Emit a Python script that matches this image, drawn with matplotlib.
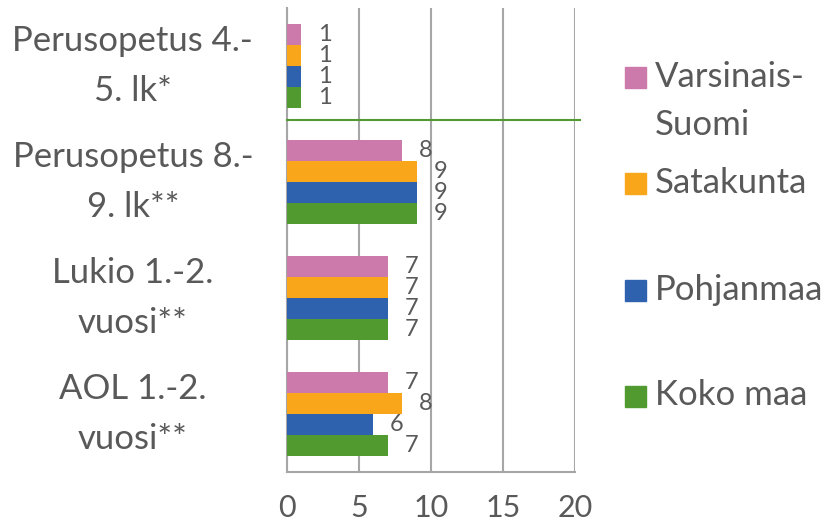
import numpy as np
import matplotlib.pyplot as plt
from matplotlib.patches import Rectangle

plt.rcParams['font.family'] = ['Lato', 'DejaVu Sans']

categories = ["Perusopetus 4.-\n5. lk*", "Perusopetus 8.-\n9. lk**",
              "Lukio 1.-2.\nvuosi**", "AOL 1.-2.\nvuosi**"]
series = ["Varsinais-\nSuomi", "Satakunta", "Pohjanmaa", "Koko maa"]
varsinais_suomi = [1, 8, 7, 7]
satakunta = [1, 9, 7, 8]
pohjanmaa = [1, 9, 7, 6]
koko_maa = [1, 9, 7, 7]
x_ticks = [0, 5, 10, 15, 20]

colors = ["#CC79AB", "#F9A61A", "#2E62AE", "#509A2F"]
TEXT = "#595959"
GRID = "#A6A6A6"

values = [varsinais_suomi, satakunta, pohjanmaa, koko_maa]

fig = plt.figure(figsize=(8.27, 5.26), dpi=100)
ax = fig.add_axes([287 / 827, 1 - 472 / 526, 288 / 827, 464 / 526])

bar_h = 21 / 116
ys = np.arange(len(categories))
for i, (vals, col) in enumerate(zip(values, colors)):
    offset = (i - 1.5) * bar_h
    ax.barh(ys + offset, vals, height=bar_h, color=col, zorder=3)
    for y, v in zip(ys + offset, vals):
        ax.annotate(str(v), (v, y), xytext=(12, 0), textcoords="offset points",
                    va="center", ha="left", fontsize=17, color=TEXT)

ax.set_xlim(0, 20)
ax.set_ylim(3.5, -0.5)
ax.set_xticks(x_ticks)
ax.set_xticklabels([str(t) for t in x_ticks])
ax.set_yticks(ys)
ax.set_yticklabels(categories, ha="center", va="center", linespacing=1.7)
ax.tick_params(axis="y", length=0, pad=111, labelsize=25, labelcolor=TEXT)
ax.tick_params(axis="x", length=0, pad=16, labelsize=22, labelcolor=TEXT)
ax.grid(axis="x", color=GRID, linewidth=1.5, zorder=0)
for side in ["top", "right"]:
    ax.spines[side].set_visible(False)
for side in ["left", "bottom"]:
    ax.spines[side].set_color(GRID)
    ax.spines[side].set_linewidth(1.5)

# separator line between the first two groups
ax.plot([0, 20.35], [0.466, 0.466], color="#509A2F", linewidth=1.5,
        clip_on=False, zorder=4)

# legend drawn by hand (Excel-like spacing)
box_y = [77, 183, 290, 396]
text_y = [101, 183, 290, 395]
for lab, col, by, ty in zip(series, colors, box_y, text_y):
    fig.patches.append(Rectangle((625 / 827, 1 - (by + 10.5) / 526), 21 / 827, 21 / 526,
                                 transform=fig.transFigure, color=col))
    fig.text(655 / 827, 1 - ty / 526, lab, fontsize=25, color=TEXT,
             va="center", ha="left", linespacing=1.6)

fig.savefig("out.png", dpi=100)
